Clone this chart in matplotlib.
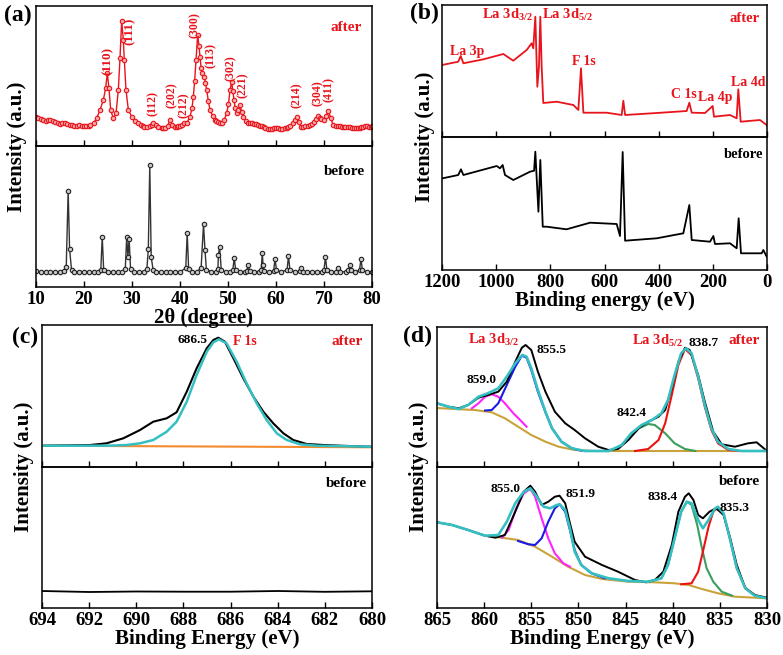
import numpy as np
import matplotlib.pyplot as plt

plt.rcParams['font.family'] = ['Liberation Serif', 'DejaVu Serif']
plt.rcParams['font.weight'] = 'bold'
plt.rcParams['axes.labelweight'] = 'bold'
plt.rcParams['mathtext.fontset'] = 'custom'
plt.rcParams['mathtext.rm'] = 'Liberation Serif:bold'
plt.rcParams['mathtext.it'] = 'Liberation Serif:bold'
plt.rcParams['mathtext.bf'] = 'Liberation Serif:bold'
plt.rcParams['axes.linewidth'] = 1.1

RED = '#e8141c'
CYAN = '#35bfc2'

# ---------------- (a) XRD ----------------
xrd_after_x = [10, 10.5, 11, 11.5, 12, 12.5, 13, 13.5, 14, 14.5, 15, 15.5, 16, 16.5, 17, 17.5, 18,
               18.5, 19, 19.5, 20, 20.5, 21, 21.25, 22, 22.64, 23.33, 24.03, 24.5,
               24.86, 25.2, 25.56, 26.1, 26.67, 27.15, 27.5, 27.85, 28.19, 28.4, 28.75, 29.24, 29.93,
               30.6, 31.32, 31.8, 32.2, 32.6, 33.06, 33.8, 34.1, 34.44, 35.0, 35.49, 36.2, 36.5, 36.88,
               37.4, 37.92, 38.4, 38.96, 39.3, 39.6, 40.0, 40.35, 40.8, 41.39, 42.08, 42.5, 42.78,
               43.05, 43.33, 43.68, 43.95, 44.17,
               44.4, 44.65, 45.07, 45.3, 45.56, 45.9, 46.25, 46.8, 47.29, 47.6, 48.0, 48.3, 48.68,
               49.2, 49.72, 50.1, 50.42, 50.76, 51.0, 51.25, 51.5, 51.8, 52.15, 52.5, 52.85, 53.19,
               53.7, 54.24, 54.6, 55.0, 55.4, 55.8, 56.3, 56.6, 57.0, 57.4, 57.8, 58.3, 58.75, 59.1,
               59.5, 60.0, 60.5, 60.9, 61.3, 61.8, 62.2, 62.6, 62.9, 63.5, 63.9, 64.3,
               64.7, 65.2, 65.6, 66.0, 66.6, 67.1, 67.6, 68.0, 68.4, 68.8, 69.1, 69.4, 69.9, 70.4, 70.9,
               71.4, 71.9, 72.5, 73.0, 73.4, 73.7, 74.1, 74.4, 74.9, 75.4, 75.8, 76.2, 76.6, 77.0,
               77.4, 77.8, 78.1, 78.5, 78.9, 79.3, 79.7, 80.0]
xrd_after_y = [29, 28, 27, 26.5, 25, 26, 26, 25, 24, 23, 22, 23.5, 23, 22, 21, 21.5, 20,
               20.5, 21, 20, 20, 20.5, 20, 21, 23, 27.7, 36, 46, 57.7,
               72.7, 57.7, 36, 27.7, 32.7, 56, 87.7, 125.3, 106, 86, 56, 36, 29.3,
               25, 22.7, 21.5, 20, 19.5, 19.3, 20.5, 21.5, 22.7, 21, 19.3, 18.5, 18, 17.7,
               20, 26, 21, 19.3, 19.5, 20, 20.5, 21, 23, 22.7, 29.3, 38, 49.3,
               65, 86, 111, 100, 89.3,
               78, 72.7, 69.3, 63, 56, 45, 36, 30, 26, 25, 24, 23.5, 22.7,
               26, 32.7, 42, 56, 64.3, 55, 46, 38, 32.7, 36, 41, 34, 29.3,
               25, 22.7, 23.5, 23, 22, 22, 21, 20.5, 20, 19, 18, 17.5, 17, 17.5,
               18, 18.5, 18, 17.5, 17.5, 18, 18, 19, 20, 23, 26, 29,
               24, 19, 19.5, 20, 20.5, 21, 22.5, 24, 27, 30, 28.5, 27, 26, 30, 35,
               28, 21, 20.5, 20, 20, 19.5, 19, 19, 19.5, 19, 18.5, 18.5, 18, 18,
               18.5, 19, 19.5, 20, 20, 19.5, 19.5, 20]

xrd_before_x = [10, 11, 12, 13, 14, 15, 15.8, 16.3, 16.7, 17.0, 17.4, 18, 19, 20, 21, 22, 23, 23.5,
                23.8, 24.1, 25, 26, 27, 28, 28.6, 28.9, 29.15, 29.4, 29.7, 30.5, 31.5, 32.5, 33.1,
                33.4, 33.7, 34.0, 34.4, 35, 36, 37, 38, 39, 40, 41.2, 41.5, 41.8, 42.5, 43.5, 44.4,
                44.9, 45.2, 45.5, 46.5, 47.5, 47.9, 48.0, 48.25, 48.6, 49.5, 50.5, 51.0, 51.3, 51.6,
                52.5, 53.5, 53.9, 54.2, 54.5, 55.5, 56.5, 56.9, 57.15, 57.3, 57.6, 58.5, 59.5, 59.8,
                60.1, 61, 62.3, 62.6, 62.9, 64, 65.0, 65.3, 65.6, 66.5, 67.5, 68.5, 69.5, 70.0, 70.3,
                70.6, 71.5, 72.5, 72.9, 73.3, 74.5, 75.1, 75.4, 75.7, 76.5, 77.4, 77.7, 78.0, 79, 80]
xrd_before_y = [16, 15, 15.5, 15, 15.5, 15, 16, 20, 96, 38, 17, 15, 15.5, 15, 15, 15.5, 15, 17,
                50, 17, 15, 15, 15.5, 15, 18, 50, 30, 48, 18, 15, 15, 15.5, 18,
                38, 122, 30, 17, 15, 15, 15.5, 15, 15, 15, 19, 54, 18, 15, 15, 19,
                63, 37, 17, 15, 15, 18, 32, 40, 17, 15, 15, 17, 29, 17,
                15, 15, 16, 22, 16, 15, 15, 17, 34, 22, 16, 15, 16, 28,
                17, 15, 17, 31, 17, 15, 16, 19, 15.5, 15, 15, 15.5, 15, 17, 30,
                17, 15, 15.5, 19, 15.5, 15, 17, 22, 17, 15, 17, 28, 17, 15, 15]

hkl_labels = ['(110)', '(111)', '(112)', '(202)', '(212)', '(300)', '(113)', '(302)',
              '(221)', '(214)', '(304)', '(411)']
hkl_x = [24.85, 29.6, 34.3, 38.3, 40.8, 43.1, 46.5, 50.6, 53.0, 64.4, 68.8, 71.1]
hkl_y = [85, 115, 42, 51, 41, 121, 90, 78, 61, 51, 53, 56]

# ---------------- (b) XPS survey ----------------
surv_after_x = [1200, 1140, 1131, 1121, 1047, 973.5, 937, 887.4, 869, 863, 855.4, 848, 842, 837, 832,
                826, 776.6, 715, 696.6, 686.8, 678, 592, 536.6, 530.5, 524, 407, 296.6, 286.8, 278,
                229, 200.6, 195.7, 136.6, 112, 106, 97.2, 26, 1.2]
surv_after_y = [72, 75.3, 81, 73.7, 77.7, 83, 76.3, 87, 93.7, 88.7, 120.3, 50.3, 70.3, 120.3, 70.3,
                34, 35.3, 32, 27, 68.7, 24.3, 24.3, 22, 36.3, 22, 24, 26, 34.3, 24.3,
                24, 31, 20.3, 22, 18.7, 47.7, 15.3, 17, 12]
surv_before_x = [1197.5, 1140, 1130, 1121, 998, 986, 976, 967.4, 936.6, 875, 860, 855.4, 844, 837,
                 828, 813.5, 740, 653.5, 555, 542.8, 532.9, 524, 407, 309, 286.8, 278, 210.5, 198,
                 192, 136.6, 112, 104.6, 96, 19.7, 13.5, 1.2]
surv_before_y = [91.7, 95, 100.7, 95, 104, 101.7, 105, 95, 90, 98.3, 99.3, 118.3, 58.3, 110,
                 43.3, 43.3, 40.7, 47.3, 46, 34, 118, 29.3, 31.7, 36.7, 65, 30, 28.3, 34,
                 26, 26.7, 21.7, 51.7, 16.7, 16.7, 20, 13.3]

# ---------------- (c) F 1s ----------------
f1s_x = [693.9, 691.96, 691.26, 690.55, 689.84, 689.28, 688.71, 688.29, 687.86, 687.44, 687.01,
         686.73, 686.52, 686.24, 685.88, 685.46, 685.03, 684.61, 684.19, 683.76, 683.34, 682.77,
         682.06, 681.36, 680.08]
f1s_y = [21.3, 22, 23.7, 28.7, 37, 45.3, 48.7, 54.7, 75.3, 98.7, 118.7,
         127, 129.3, 125.3, 108.7, 88.7, 70.3, 55.3, 43.7, 33.7, 27, 23,
         22, 21.3, 20.3]
f1s_fit_x = [693.9, 691.26, 690.4, 689.84, 689.28, 688.71, 688.29, 687.86, 687.44, 687.01, 686.73,
             686.5, 686.17, 685.74, 685.32, 684.89, 684.47, 684.04, 683.62, 683.05, 682.35, 680.08]
f1s_fit_y = [21.3, 21.3, 22, 23.7, 27, 35.3, 45.3, 65.3, 92, 115.3, 124.7,
             127.7, 123.7, 105.3, 83.7, 63.7, 47, 33.7, 27, 22.7, 21.3, 20.3]
f1s_bg_x = [694, 680]
f1s_bg_y = [21.3, 19.7]
f1s_before_x = [694, 692, 690, 688, 686, 684, 682, 680]
f1s_before_y = [17, 16, 16.5, 16.3, 16.3, 17, 16.2, 16.7]

# ---------------- (d) La 3d after ----------------
la_a_x = [865.0, 863.8, 862.7, 861.7, 860.6, 859.6, 858.5, 857.6, 856.7, 856.0, 855.6, 855.0, 854.3,
          853.5, 852.5, 851.4, 850.4, 849.3, 847.9, 846.8, 845.8, 844.7, 843.6, 842.6, 841.5, 840.8,
          840.1, 839.4, 838.7, 838.2, 837.3, 836.6, 835.7, 834.8, 833.4, 832.0, 831.1, 830.0]
la_a_y = [63.7, 60.3, 58.7, 62, 69.3, 72, 75.3, 85.3, 105.3, 119.3, 122, 117, 95.3,
          75.3, 55.3, 43.7, 37, 28.7, 20.3, 17, 18, 27, 38.7, 45.3, 50.3, 57,
          78.7, 105.3, 119.3, 117, 92, 65.3, 35.3, 22.7, 20.3, 23.7, 24.7, 16]
la_a_fit_x = [865.0, 863.8, 862.7, 861.7, 860.6, 859.6, 858.5, 857.6, 856.7, 855.95, 855.5, 855.0,
              854.3, 853.5, 852.8, 851.8, 850.7, 849.3, 846.8, 845.4, 844.4, 843.3, 842.2, 841.2,
              840.5, 839.8, 839.1, 838.6, 838.0, 837.3, 836.6, 835.9, 835.2, 834.1, 832.7, 830.0]
la_a_fit_y = [63.7, 60.3, 58, 62, 70.3, 73.7, 78.7, 90.3, 103.7, 112, 110.3, 98.7,
              77, 55.3, 38.7, 25.3, 18.7, 16, 16, 22, 33.7, 42, 47, 53.7,
              67, 92, 113.7, 118.7, 113.7, 90.3, 62, 38.7, 25.3, 18, 16, 16]
la_a_bg_x = [865.0, 863.1, 861.0, 859.2, 857.8, 856.4, 855.0, 853.5, 852.1, 850.4, 848.2, 830.0]
la_a_bg_y = [59, 58, 57, 54.7, 48.7, 40.3, 32, 25.3, 20.3, 17, 16, 16]
la_a_p1_x = [859.9, 859.2, 858.5, 857.6, 856.7, 856.0, 855.5, 855.0, 854.3, 853.5, 852.8, 851.8,
             850.7, 849.7]
la_a_p1_y = [56.5, 57, 63.7, 82, 100.3, 111.3, 109.3, 97, 75.3, 54.7, 38.7, 25.3, 18.7, 16.3]
la_a_p2_x = [861.3, 860.6, 859.9, 859.2, 858.5, 857.8, 856.9, 856.0, 855.5]
la_a_p2_y = [58.7, 63.7, 70.3, 72.7, 70.3, 63.7, 53.7, 45.3, 40.3]
la_a_p3_x = [846.8, 845.8, 844.7, 843.6, 842.6, 841.9, 840.8, 839.8, 838.7, 837.6]
la_a_p3_y = [16, 19.3, 28.7, 38.7, 43, 42, 33.7, 23.7, 18, 16]
la_a_p4_x = [844.0, 842.6, 841.5, 840.8, 840.1, 839.4, 838.7, 838.0, 837.3, 836.6, 835.9, 835.2,
             834.1, 833.0]
la_a_p4_y = [16, 18, 27, 43.7, 72, 102, 118, 112, 88.7, 60.3, 37, 23.7, 17, 16]

# ---------------- (d) La 3d before ----------------
la_b_x = [865.0, 863.4, 861.7, 859.9, 858.8, 857.8, 856.7, 855.8, 855.1, 854.6, 853.9, 853.2, 852.5,
          852.0, 851.4, 850.9, 850.4, 849.3, 847.5, 845.8, 844.0, 842.8, 841.9, 841.0, 840.1, 839.4,
          838.7, 838.3, 837.8, 837.3, 836.8, 836.1, 835.4, 834.6, 833.9, 833.2, 832.3, 831.3, 830.0]
la_b_y = [85.7, 83, 78, 72.3, 70.3, 73, 96.3, 116.3, 122.3, 116.3, 103, 106.3, 111.3,
          112.3, 104.7, 84.7, 66.3, 51.3, 43, 36.3, 28, 25.7, 28, 36.3, 63, 96.3,
          111.3, 114.7, 108, 93, 89.7, 96.3, 99.7, 93, 69.7, 43, 19.7, 13, 10.3]
la_b_fit_x = [865.0, 863.4, 861.7, 859.9, 858.5, 857.6, 856.7, 855.8, 855.1, 854.4, 853.7, 853.0,
              852.3, 852.0, 851.4, 850.9, 850.4, 849.7, 848.6, 846.8, 844.7, 842.6, 841.2, 840.5,
              839.8, 839.1, 838.5, 838.0, 837.3, 836.8, 836.2, 835.5, 835.2, 834.6, 833.9, 833.2,
              832.3, 831.3, 830.0]
la_b_fit_y = [85.7, 83, 78, 72.3, 73, 86.3, 104.7, 116.3, 119.7, 111.3, 101.3, 99.7,
              103, 103.7, 98, 79.7, 56.3, 43, 34.7, 29.7, 27, 26.3, 29.7, 43,
              69.7, 96.3, 106.3, 104.7, 88, 79.7, 88, 99.7, 101.3, 94.7, 68, 39.7,
              19.7, 12.3, 9.7]
la_b_bg_x = [859.9, 858.1, 856.4, 854.6, 852.8, 851.1, 849.3, 847.5, 844.7, 841.9, 839.8, 838.3,
             836.9, 835.2, 833.4, 830.0]
la_b_bg_y = [72.3, 70.3, 68, 61.3, 51.3, 41.3, 33, 29, 26.3, 25.7, 24.7, 23, 19, 14.7, 11.3, 9.7]
la_b_p1_x = [858.1, 857.4, 856.6, 855.8, 855.1, 854.6, 853.9, 853.2, 852.5, 851.6, 850.9]
la_b_p1_y = [70.3, 78, 99.7, 114.7, 119, 111.3, 89.7, 69.7, 54.7, 44.7, 41.3]
la_b_p2_x = [856.4, 855.3, 854.6, 853.9, 853.2, 852.5, 852.0, 851.4, 850.9, 850.4, 849.7, 848.6,
             847.2]
la_b_p2_y = [67, 63.7, 63, 69.7, 86.3, 99.7, 103.7, 96.3, 78, 58, 43, 34.7, 29.7]
la_b_p3_x = [842.6, 841.2, 840.5, 839.8, 839.1, 838.5, 838.0, 837.4, 836.9, 836.4, 835.7, 834.8,
             833.7]
la_b_p3_y = [26.3, 29.7, 43, 69.7, 96.3, 106.3, 103, 83, 59.7, 39.7, 26.3, 16.3, 12.3]
la_b_p4_x = [839.1, 838.0, 837.3, 836.8, 836.2, 835.7, 835.2, 834.6, 833.9, 833.2, 832.3, 831.3]
la_b_p4_y = [23.7, 24.7, 36.3, 56.3, 81.3, 96.3, 100.3, 93.7, 68, 39.7, 20.3, 13]

W, H = 783, 655
fig = plt.figure(figsize=(W / 100, H / 100), dpi=100)


def px_axes(l, t, r, b):
    ax = fig.add_axes([l / W, 1 - b / H, (r - l) / W, (b - t) / H])
    ax.patch.set_visible(False)
    return ax


def style(ax, xlim, ylim, ticks, labels):
    ticks = list(ticks)
    ax.set_xticks(ticks)
    ax.set_xticklabels([str(t) for t in ticks], fontweight='bold', fontsize=13.5)
    ax.set_xlim(*xlim)
    ax.set_ylim(*ylim)
    ax.set_yticks([])
    ax.tick_params(axis='x', direction='in', length=4, width=1,
                   labelbottom=labels, pad=3)


def ftext(x, y, s, **kw):
    fig.text(x / W, 1 - y / H, s, **kw)


def tag(ax, s, x, y, color='black', size=11):
    ax.text(x, y, s, transform=ax.transAxes, ha='right', va='center',
            color=color, fontsize=size, fontweight='bold')


# (a)
a1 = px_axes(36, 6, 372, 146)
a2 = px_axes(36, 146, 372, 287)
a1.plot(xrd_after_x, xrd_after_y, '-o', color=RED, lw=1, ms=3.2, mfc='#f6a9a9', mec=RED, mew=0.8)
a2.plot(xrd_before_x, xrd_before_y, '-o', color='#333333', lw=1, ms=3.2, mfc='#c8c8c8',
        mec='#222222', mew=0.8)
for lab, hx, hy in zip(hkl_labels, hkl_x, hkl_y):
    fs = 9.5 if lab in ('(110)', '(111)') else 8.5
    a1.text(hx, hy, lab, rotation=90, ha='center', va='center', color=RED, fontsize=fs)
style(a1, (10, 80), (0, 140), range(10, 81, 10), False)
style(a2, (10, 80), (0, 141), range(10, 81, 10), True)
tag(a1, 'after', 0.970, 0.843, RED)
tag(a2, 'before', 0.979, 0.818)
a2.set_xlabel('2θ (degree)', fontsize=15, labelpad=0)

# (b)
b1 = px_axes(442, 5, 767, 137)
b2 = px_axes(442, 137, 767, 270)
b1.plot(surv_after_x, surv_after_y, color=RED, lw=1.3)
b2.plot(surv_before_x, surv_before_y, color='black', lw=1.3)
style(b1, (1200, 0), (0, 132), range(0, 1201, 200), False)
style(b2, (1200, 0), (0, 133), range(0, 1201, 200), True)
b1.text(1106, 85.3, 'La 3p', color=RED, fontsize=10, ha='center', va='center')
b1.text(864, 122, 'La 3d$_{3/2}$', color=RED, fontsize=10.5, ha='right', va='center')
b1.text(832, 122, 'La 3d$_{5/2}$', color=RED, fontsize=10.5, ha='left', va='center')
b1.text(675.6, 75.3, 'F 1s', color=RED, fontsize=10, ha='center', va='center')
b1.text(306, 42, 'C 1s', color=RED, fontsize=10, ha='center', va='center')
b1.text(192, 39, 'La 4p', color=RED, fontsize=10, ha='center', va='center')
b1.text(70, 55, 'La 4d', color=RED, fontsize=10, ha='center', va='center')
tag(b1, 'after', 0.978, 0.90, RED, 10.5)
tag(b2, 'before', 0.99, 0.865, 'black', 10.5)
b2.set_xlabel('Binding energy (eV)', fontsize=15, labelpad=0)

# (c)
c1 = px_axes(42, 325, 372, 467)
c2 = px_axes(42, 467, 372, 608)
c1.plot(f1s_bg_x, f1s_bg_y, color='#f28a30', lw=1.5)
c1.plot(f1s_x, f1s_y, color='black', lw=1.5)
c1.plot(f1s_fit_x, f1s_fit_y, color=CYAN, lw=1.8)
c2.plot(f1s_before_x, f1s_before_y, color='black', lw=1.3)
style(c1, (694, 680), (0, 142), range(680, 695, 2), False)
style(c2, (694, 680), (0, 141), range(680, 695, 2), True)
c1.text(687.6, 127, '686.5', fontsize=9.5, ha='center', va='center')
c1.text(685.4, 125.3, 'F 1s', color=RED, fontsize=10, ha='center', va='center')
tag(c1, 'after', 0.973, 0.887, RED)
tag(c2, 'before', 0.985, 0.884)
c2.set_xlabel('Binding Energy (eV)', fontsize=15, labelpad=0)

# (d)
d1 = px_axes(437, 327, 767, 467)
d2 = px_axes(437, 467, 767, 608)
d1.plot(la_a_bg_x, la_a_bg_y, color='#c9a23a', lw=1.5)
d1.plot(la_a_p2_x, la_a_p2_y, color='#ff22ff', lw=1.5)
d1.plot(la_a_p1_x, la_a_p1_y, color='#1a1ae6', lw=1.5)
d1.plot(la_a_p3_x, la_a_p3_y, color='#3a9e5c', lw=1.5)
d1.plot(la_a_p4_x, la_a_p4_y, color='#ee1111', lw=1.5)
d1.plot(la_a_x, la_a_y, color='black', lw=1.4)
d1.plot(la_a_fit_x, la_a_fit_y, color=CYAN, lw=1.9)
d2.plot(la_b_bg_x, la_b_bg_y, color='#c9a23a', lw=1.5)
d2.plot(la_b_p1_x, la_b_p1_y, color='#ff22ff', lw=1.5)
d2.plot(la_b_p2_x, la_b_p2_y, color='#1a1ae6', lw=1.5)
d2.plot(la_b_p3_x, la_b_p3_y, color='#3a9e5c', lw=1.5)
d2.plot(la_b_p4_x, la_b_p4_y, color='#ee1111', lw=1.5)
d2.plot(la_b_x, la_b_y, color='black', lw=1.4)
d2.plot(la_b_fit_x, la_b_fit_y, color=CYAN, lw=1.9)
style(d1, (865, 830), (0, 140), range(830, 866, 5), False)
style(d2, (865, 830), (0, 141), range(830, 866, 5), True)
d1.text(861.7, 127, 'La 3d$_{3/2}$', color=RED, fontsize=10.5, ha='left', va='center')
d1.text(844.3, 126, 'La 3d$_{5/2}$', color=RED, fontsize=10.5, ha='left', va='center')
d1.text(852.9, 117, '855.5', fontsize=9.5, ha='center', va='center')
d1.text(860.3, 87, '859.0', fontsize=9.5, ha='center', va='center')
d1.text(844.4, 53.7, '842.4', fontsize=9.5, ha='center', va='center')
d1.text(836.7, 124, '838.7', fontsize=9.5, ha='center', va='center')
d2.text(857.7, 119, '855.0', fontsize=9.5, ha='center', va='center')
d2.text(849.8, 113.7, '851.9', fontsize=9.5, ha='center', va='center')
d2.text(841.1, 111.3, '838.4', fontsize=9.5, ha='center', va='center')
d2.text(833.5, 100.3, '835.3', fontsize=9.5, ha='center', va='center')
tag(d1, 'after', 0.979, 0.90, RED)
tag(d2, 'before', 0.979, 0.896)
d2.set_xlabel('Binding Energy (eV)', fontsize=15, labelpad=0)

# shared y labels and panel letters
for x, y in [(17, 147), (425, 137), (24, 467), (419, 467)]:
    ftext(x, y, 'Intensity (a.u.)', rotation=90, ha='center', va='center', fontsize=15)
for s, x, y in [('(a)', 17.5, 15), ('(b)', 424, 13.5), ('(c)', 25, 337), ('(d)', 417.5, 336)]:
    ftext(x, y, s, ha='center', va='center', fontsize=17)

fig.savefig('out.png', dpi=100)
